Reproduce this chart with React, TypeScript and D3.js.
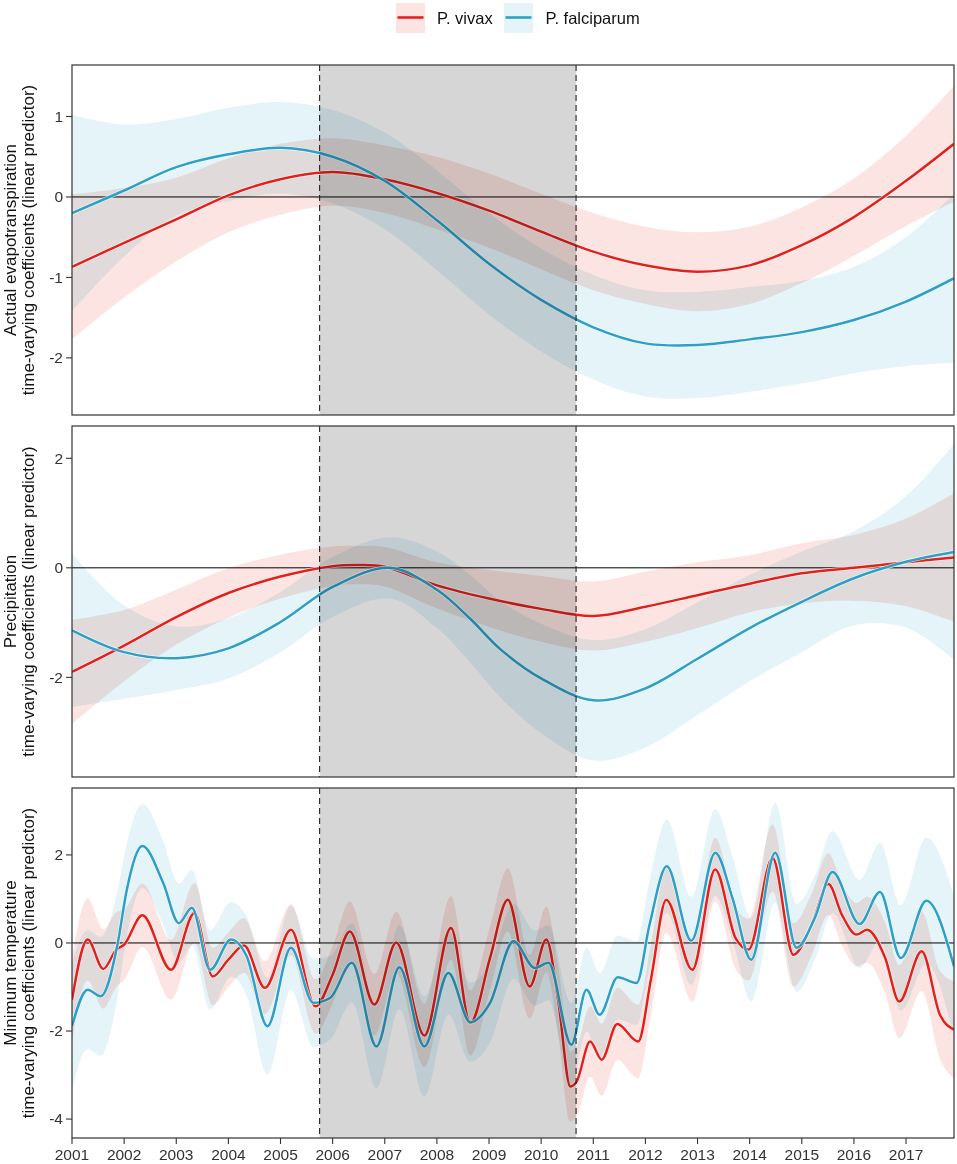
import * as d3 from "d3";

// [year, estimate, half-width of the credible band]
type Pt = [number, number, number];

const yearTicks = d3.range(2001, 2018);
const xDomain: [number, number] = [2001, 2017.92];
const shadeStart = 2005.75;
const shadeEnd = 2010.67;

const seriesNames = ["P. vivax", "P. falciparum"];

const etVivax: Pt[] = [
  [2001, -0.87, 0.9], [2002, -0.57, 0.68], [2003, -0.28, 0.52], [2004, 0.02, 0.46],
  [2005, 0.22, 0.44], [2006, 0.31, 0.42], [2007, 0.22, 0.42],
  [2008, 0.05, 0.45], [2009, -0.17, 0.46], [2010, -0.43, 0.47],
  [2011, -0.68, 0.48], [2012, -0.85, 0.48], [2013, -0.93, 0.49], [2014, -0.85, 0.48],
  [2015, -0.6, 0.47], [2016, -0.25, 0.48], [2017, 0.2, 0.56], [2017.92, 0.66, 0.72],
];
const etFalciparum: Pt[] = [
  [2001, -0.2, 1.22], [2002, 0.08, 0.82], [2003, 0.37, 0.6], [2004, 0.53, 0.58],
  [2005, 0.61, 0.57], [2006, 0.5, 0.58], [2007, 0.2, 0.6],
  [2008, -0.29, 0.62], [2009, -0.83, 0.63], [2010, -1.28, 0.64],
  [2011, -1.62, 0.65], [2012, -1.82, 0.66], [2013, -1.84, 0.66], [2014, -1.77, 0.65],
  [2015, -1.68, 0.64], [2016, -1.53, 0.66], [2017, -1.3, 0.8], [2017.92, -1.01, 1.05],
];

const precVivax: Pt[] = [
  [2001, -1.9, 0.95], [2002, -1.42, 0.65], [2003, -0.9, 0.5], [2004, -0.46, 0.45],
  [2005, -0.16, 0.4], [2006, 0.03, 0.36], [2006.5, 0.05, 0.35], [2007, 0.02, 0.36],
  [2008, -0.32, 0.42], [2009, -0.56, 0.52], [2010, -0.75, 0.6],
  [2011, -0.88, 0.63], [2012, -0.71, 0.64], [2013, -0.5, 0.6], [2014, -0.29, 0.52],
  [2015, -0.1, 0.55], [2016, 0.0, 0.6], [2017, 0.1, 0.8], [2017.92, 0.19, 1.17],
];
const precFalciparum: Pt[] = [
  [2001, -1.14, 1.4], [2002, -1.54, 0.85], [2003, -1.65, 0.58], [2004, -1.47, 0.55],
  [2005, -0.99, 0.55], [2006, -0.35, 0.55], [2007.1, 0.0, 0.56],
  [2008, -0.4, 0.7], [2008.64, -0.93, 0.8], [2009.21, -1.48, 0.88], [2010, -2.02, 1.0],
  [2011, -2.42, 1.1], [2012, -2.2, 1.08], [2013, -1.66, 1.03],
  [2014, -1.1, 0.97], [2015, -0.62, 0.92], [2016, -0.19, 0.86], [2017, 0.11, 1.2],
  [2017.92, 0.29, 1.97],
];

const tminVivax: Pt[] = [
  [2001, -1.29, 0.95], [2001.3, 0.08, 0.93], [2001.6, -0.59, 0.9], [2001.85, -0.15, 0.85],
  [2002, -0.04, 0.8], [2002.35, 0.63, 0.72], [2002.9, -0.61, 0.68], [2003.35, 0.68, 0.68],
  [2003.7, -0.76, 0.65], [2004, -0.38, 0.62], [2004.3, -0.06, 0.62], [2004.7, -1.02, 0.6],
  [2005.2, 0.3, 0.58], [2005.67, -1.44, 0.62], [2006, -0.72, 0.65], [2006.33, 0.26, 0.68],
  [2006.8, -1.4, 0.7], [2007.22, 0.01, 0.7], [2007.76, -2.1, 0.72], [2008.27, 0.34, 0.72],
  [2008.64, -1.82, 0.74], [2009.02, -0.34, 0.72], [2009.36, 0.98, 0.72], [2009.78, -0.99, 0.72],
  [2010.1, 0.08, 0.75], [2010.33, -1.33, 0.78], [2010.56, -3.26, 0.8], [2010.68, -3.15, 0.8],
  [2010.94, -2.24, 0.8], [2011.16, -2.65, 0.82], [2011.46, -1.84, 0.82], [2011.86, -2.24, 0.83],
  [2012.11, -0.8, 0.8], [2012.4, 0.98, 0.75], [2012.9, -0.61, 0.72], [2013.34, 1.67, 0.72],
  [2013.73, 0.11, 0.7], [2013.98, -0.15, 0.7], [2014.44, 1.93, 0.76], [2014.84, -0.27, 0.72],
  [2015.19, 0.42, 0.7], [2015.51, 1.34, 0.7], [2015.77, 0.64, 0.7], [2016.05, 0.19, 0.72],
  [2016.25, 0.3, 0.75], [2016.6, -0.34, 0.8], [2016.87, -1.33, 0.83], [2017.3, -0.19, 0.9],
  [2017.65, -1.63, 1.0], [2017.92, -1.97, 1.1],
];
const tminFalciparum: Pt[] = [
  [2001, -1.89, 1.45], [2001.3, -1.06, 1.35], [2001.55, -1.21, 1.35], [2001.87, -0.05, 1.2],
  [2002.05, 1.2, 1.05], [2002.35, 2.2, 0.95], [2002.75, 1.36, 0.95], [2003.05, 0.45, 0.9],
  [2003.3, 0.8, 0.85], [2003.65, -0.61, 0.9], [2004.05, 0.08, 0.85], [2004.35, -0.3, 0.9],
  [2004.75, -1.89, 1.1], [2005.2, -0.11, 0.95], [2005.63, -1.36, 1.0], [2005.95, -1.25, 0.95],
  [2006.37, -0.45, 0.9], [2006.84, -2.35, 0.95], [2007.28, -0.55, 0.95], [2007.76, -2.35, 1.14],
  [2008.22, -0.68, 0.95], [2008.64, -1.8, 0.9], [2009.02, -1.36, 0.9], [2009.47, 0.04, 0.85],
  [2009.88, -0.57, 0.85], [2010.14, -0.45, 0.85], [2010.58, -2.31, 0.95], [2010.87, -1.06, 0.95],
  [2011.12, -1.63, 0.95], [2011.47, -0.78, 0.95], [2011.83, -0.91, 0.95], [2012.08, 0.42, 1.0],
  [2012.41, 1.74, 1.06], [2012.88, 0.05, 1.0], [2013.34, 2.05, 0.98], [2013.67, 1.02, 0.95],
  [2014.03, -0.38, 0.95], [2014.49, 2.05, 1.13], [2014.9, -0.11, 1.0], [2015.25, 0.57, 0.95],
  [2015.59, 1.61, 0.93], [2016.11, 0.43, 1.0], [2016.5, 1.16, 1.11], [2016.9, -0.34, 1.2],
  [2017.39, 0.96, 1.43], [2017.92, -0.53, 1.6],
];

const panelTitles = ["Actual evapotranspiration", "Precipitation", "Minimum temperature"];
const panelTicks = [[-2, -1, 0, 1], [-2, 0, 2], [-4, -2, 0, 2]];
const panelDomains: [number, number][] = [[-2.71, 1.64], [-3.82, 2.59], [-4.43, 3.52]];

const colors = { vivax: "#E3211C", falciparum: "#2CA0C6" };
const bands = { vivax: "#FBE4E1", falciparum: "#E4F4F9" };

const FONT = "'Liberation Sans', Arial, Helvetica, sans-serif";
const width = 957;
const height = 1164;
const left = 72;
const right = 954;
const panelBoxes = [
  { top: 65, bottom: 415 },
  { top: 426, bottom: 777 },
  { top: 788, bottom: 1138 },
];

const panels = [
  { title: panelTitles[0], vivax: etVivax, falc: etFalciparum, curve: d3.curveCatmullRom },
  { title: panelTitles[1], vivax: precVivax, falc: precFalciparum, curve: d3.curveCatmullRom },
  { title: panelTitles[2], vivax: tminVivax, falc: tminFalciparum, curve: d3.curveMonotoneX },
];

const x = d3.scaleLinear().domain(xDomain).range([left, right]);

function Panel({ index }: { index: number }) {
  const p = panels[index];
  const box = panelBoxes[index];
  const y = d3.scaleLinear().domain(panelDomains[index]).range([box.bottom, box.top]);
  const line = d3
    .line<Pt>()
    .x((d) => x(d[0]))
    .y((d) => y(d[1]))
    .curve(p.curve);
  const area = d3
    .area<Pt>()
    .x((d) => x(d[0]))
    .y0((d) => y(d[1] - d[2]))
    .y1((d) => y(d[1] + d[2]))
    .curve(p.curve);
  const clipId = `clip-${index}`;
  const midY = (box.top + box.bottom) / 2;

  return (
    <g>
      <defs>
        <clipPath id={clipId}>
          <rect x={left} y={box.top} width={right - left} height={box.bottom - box.top} />
        </clipPath>
      </defs>
      <g clipPath={`url(#${clipId})`}>
        <path d={area(p.vivax) ?? ""} fill={bands.vivax} style={{ mixBlendMode: "multiply" }} />
        <path d={area(p.falc) ?? ""} fill={bands.falciparum} style={{ mixBlendMode: "multiply" }} />
        <line x1={left} x2={right} y1={y(0)} y2={y(0)} stroke="#000" strokeWidth={1} />
        {[p.vivax, p.falc].map((s, i) => (
          <g key={i}>
            <path d={line(s) ?? ""} fill="none" stroke="#fff" strokeWidth={3.8} strokeOpacity={0.8} />
            <path
              d={line(s) ?? ""}
              fill="none"
              stroke={i === 0 ? colors.vivax : colors.falciparum}
              strokeWidth={2.5}
            />
          </g>
        ))}
        <rect
          x={x(shadeStart)}
          y={box.top}
          width={x(shadeEnd) - x(shadeStart)}
          height={box.bottom - box.top}
          fill="#000"
          fillOpacity={0.16}
        />
        {[shadeStart, shadeEnd].map((t) => (
          <line
            key={t}
            x1={x(t)}
            x2={x(t)}
            y1={box.top}
            y2={box.bottom}
            stroke="#222"
            strokeWidth={1.1}
            strokeDasharray="6,4"
          />
        ))}
      </g>
      <rect
        x={left}
        y={box.top}
        width={right - left}
        height={box.bottom - box.top}
        fill="none"
        stroke="#333"
        strokeWidth={1.2}
      />
      {panelTicks[index].map((t) => (
        <g key={t}>
          <line x1={left - 6} x2={left} y1={y(t)} y2={y(t)} stroke="#333" strokeWidth={1.1} />
          <text
            x={left - 9}
            y={y(t)}
            dy="0.35em"
            textAnchor="end"
            fontSize={15.5}
            fill="#333"
            fontFamily={FONT}
          >
            {t}
          </text>
        </g>
      ))}
      <g transform={`translate(0,${midY}) rotate(-90)`} fontFamily={FONT} fontSize={17} fill="#111">
        <text x={0} y={15.5} textAnchor="middle">
          {p.title}
        </text>
        <text x={0} y={33.5} textAnchor="middle">
          time-varying coefficients (linear predictor)
        </text>
      </g>
    </g>
  );
}

function Legend() {
  const items = [
    { name: seriesNames[0], line: colors.vivax, band: bands.vivax, x: 396, tx: 437 },
    { name: seriesNames[1], line: colors.falciparum, band: bands.falciparum, x: 504, tx: 545.5 },
  ];
  return (
    <g fontFamily={FONT} fontSize={16.5} fill="#111">
      {items.map((it) => (
        <g key={it.name}>
          <rect x={it.x} y={3} width={29} height={30} fill={it.band} />
          <line x1={it.x + 1.5} x2={it.x + 27.5} y1={17.5} y2={17.5} stroke={it.line} strokeWidth={2.6} />
          <text x={it.tx} y={18} dy="0.35em">
            {it.name}
          </text>
        </g>
      ))}
    </g>
  );
}

export default function App() {
  const bottom = panelBoxes[2].bottom;
  return (
    <div style={{ position: "absolute", left: 0, top: 0 }}>
      <svg width={width} height={height} style={{ display: "block", background: "#fff" }}>
        <rect width={width} height={height} fill="#fff" />
        <Legend />
        {panels.map((_, i) => (
          <Panel key={i} index={i} />
        ))}
        {yearTicks.map((yr) => (
          <g key={yr}>
            <line x1={x(yr)} x2={x(yr)} y1={bottom} y2={bottom + 6} stroke="#333" strokeWidth={1.1} />
            <text
              x={x(yr)}
              y={1160}
              textAnchor="middle"
              fontSize={15.5}
              fill="#333"
              fontFamily={FONT}
            >
              {yr}
            </text>
          </g>
        ))}
      </svg>
    </div>
  );
}
